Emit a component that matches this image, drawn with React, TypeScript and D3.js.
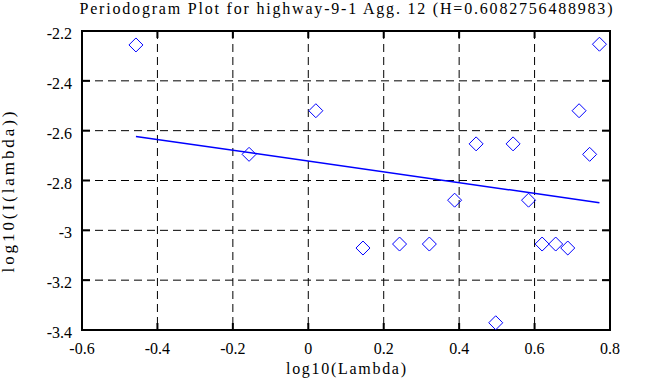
import React from 'react';
import * as d3 from 'd3';

// periodogram points: log10(lambda) vs log10(I(lambda))
const logLambda = [
  -0.457, -0.157, 0.020, 0.145, 0.242, 0.321, 0.388, 0.445, 0.497,
  0.543, 0.584, 0.620, 0.656, 0.688, 0.718, 0.746, 0.772,
];
const logPower = [
  -2.256, -2.695, -2.520, -3.071, -3.055, -3.055, -2.879, -2.653, -3.371,
  -2.653, -2.879, -3.055, -3.055, -3.071, -2.520, -2.695, -2.253,
];

// least squares fit end points
const fitX = [-0.457, 0.772];
const fitY = [-2.623, -2.889];

const xTicks = [-0.6, -0.4, -0.2, 0, 0.2, 0.4, 0.6, 0.8];
const yTicks = [-2.2, -2.4, -2.6, -2.8, -3, -3.2, -3.4];

const title = 'Periodogram Plot for highway-9-1 Agg. 12 (H=0.6082756488983)';

const App = () => {
  const width = 653, height = 387;
  const margin = { top: 31, right: 43, bottom: 57, left: 82 };
  const w = width - margin.left - margin.right,
    h = height - margin.top - margin.bottom;

  const x = d3.scaleLinear().domain([-0.6, 0.8]).range([0, w]);
  const y = d3.scaleLinear().domain([-3.4, -2.2]).range([h, 0]);

  const points = logLambda.map((d, i) => ({ x: d, y: logPower[i] }));
  const fit = fitX.map((d, i) => [d, fitY[i]] as [number, number]);
  const line = d3.line<[number, number]>()
    .x(d => x(d[0]))
    .y(d => y(d[1]));

  const r = 7;
  const fmt = (t: number) => String(t);

  return (
    <svg width={width} height={height}
      style={{ position: 'absolute', left: 0, top: 0, background: 'white', fontFamily: "'Liberation Serif', 'DejaVu Serif', serif" }}>
      <text x={margin.left + w / 2} y={14} textAnchor="middle" fontSize={16}
        textLength={533} lengthAdjust="spacing">{title}</text>
      <g transform={`translate(${margin.left},${margin.top})`}>
        {xTicks.slice(1, -1).map(t => (
          <g key={'gx' + t}>
            <line x1={x(t)} x2={x(t)} y1={0} y2={h} stroke="black" strokeDasharray="8,5" />
            <line x1={x(t)} x2={x(t)} y1={h} y2={h - 7} stroke="black" strokeWidth={2} />
            <line x1={x(t)} x2={x(t)} y1={0} y2={7} stroke="black" strokeWidth={2} />
          </g>
        ))}
        {yTicks.slice(1, -1).map(t => (
          <g key={'gy' + t}>
            <line x1={0} x2={w} y1={y(t)} y2={y(t)} stroke="black" strokeDasharray="8,5" />
            <line x1={0} x2={8} y1={y(t)} y2={y(t)} stroke="black" strokeWidth={2} />
            <line x1={w} x2={w - 8} y1={y(t)} y2={y(t)} stroke="black" strokeWidth={2} />
          </g>
        ))}
        <rect x={0} y={0} width={w} height={h} fill="none" stroke="black" strokeWidth={2} />
        {xTicks.map(t => (
          <text key={'tx' + t} x={x(t)} y={h + 24} textAnchor="middle" fontSize={16}>{fmt(t)}</text>
        ))}
        {yTicks.map(t => (
          <text key={'ty' + t} x={-10} y={y(t) + 8} textAnchor="end" fontSize={16}>{fmt(t)}</text>
        ))}
        <path d={line(fit) || ''} fill="none" stroke="#0000ff" strokeWidth={1.5} />
        {points.map((d, i) => (
          <path key={i}
            d={`M${x(d.x)},${y(d.y) - r}L${x(d.x) + r},${y(d.y)}L${x(d.x)},${y(d.y) + r}L${x(d.x) - r},${y(d.y)}Z`}
            fill="none" stroke="#0000ff" strokeWidth={1} />
        ))}
        <text x={w / 2} y={h + 44} textAnchor="middle" fontSize={16}
          textLength={120} lengthAdjust="spacing">log10(Lambda)</text>
      </g>
      <text transform={`translate(14,192) rotate(-90)`} textAnchor="middle" fontSize={17}
        textLength={161} lengthAdjust="spacing">log10(I(lambda))</text>
    </svg>
  );
};

export default App;
